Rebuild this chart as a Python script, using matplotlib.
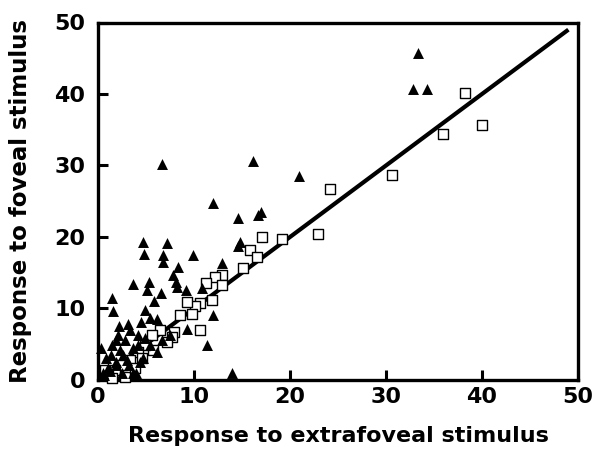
import matplotlib
matplotlib.use("Agg")
import matplotlib.pyplot as plt

plt.rcParams['font.family'] = ['DejaVu Sans']

# Filled triangles: response pairs (extrafoveal, foveal)
tri_x = [33.3, 32.8, 34.3, 20.9, 16.1, 6.7, 12.0, 14.6, 16.7, 17.0,
         4.7, 7.2, 4.8, 6.8, 6.8, 9.9, 14.8, 14.6, 12.9, 8.3,
         7.8, 8.1, 8.2, 3.6, 5.3, 5.1, 6.6, 9.2, 10.8, 1.5,
         1.6, 5.8, 4.9, 5.4, 6.1, 12.0, 3.1, 4.5, 9.3, 11.4,
         6.1, 0.3, 14.0, 3.6, 2.1, 2.8, 3.3, 1.3, 2.3, 4.2,
         1.0, 1.9, 4.9, 3.0, 0.6, 4.4, 1.5, 5.4, 6.7, 7.5,
         1.9, 0.8, 4.2, 3.2, 0.5, 4.0, 2.6, 1.9, 4.7, 2.5,
         1.2, 3.6, 2.2]
tri_y = [45.7, 40.7, 40.7, 28.5, 30.6, 30.2, 24.8, 22.7, 23.1, 23.5,
         19.3, 19.2, 17.6, 17.5, 16.5, 17.5, 19.3, 18.7, 16.4, 15.8,
         14.7, 13.7, 13.0, 13.4, 13.7, 12.6, 12.2, 12.6, 12.9, 11.5,
         9.7, 11.0, 9.8, 8.7, 8.5, 9.1, 7.8, 8.1, 7.1, 4.9,
         3.9, 4.5, 1.0, 1.0, 6.3, 5.6, 7.0, 3.5, 4.2, 4.9,
         1.7, 2.5, 5.9, 2.8, 0.7, 2.5, 4.9, 4.9, 5.6, 6.3,
         5.6, 3.1, 6.3, 2.1, 1.0, 1.0, 3.5, 2.1, 3.1, 1.0,
         1.2, 4.5, 7.5]

# Open squares
sq_x = [38.2, 40.0, 35.9, 30.6, 24.2, 22.9, 19.2, 17.1, 15.8, 16.6,
        15.1, 12.9, 12.2, 11.3, 12.9, 11.9, 10.6, 10.1, 9.3, 8.5,
        9.8, 10.6, 7.9, 7.7, 7.2, 5.7, 6.5, 5.6, 4.9, 4.2,
        3.3, 2.5, 1.8, 1.0, 1.5, 2.8, 3.9, 0.7, 4.6]
sq_y = [40.1, 35.7, 34.4, 28.7, 26.7, 20.4, 19.7, 20.0, 18.2, 17.2,
        15.7, 14.7, 14.4, 13.6, 13.3, 11.2, 10.8, 10.3, 10.9, 9.1,
        9.2, 7.0, 6.7, 6.0, 5.3, 4.2, 7.0, 6.3, 4.9, 3.9,
        2.8, 2.1, 1.4, 0.7, 0.3, 0.4, 1.7, 1.4, 3.1]

# Identity line
line_x = [0, 49]
line_y = [0, 49]

ticks = [0, 10, 20, 30, 40, 50]
xlabel = "Response to extrafoveal stimulus"
ylabel = "Response to foveal stimulus"

fig = plt.figure(figsize=(5.93, 4.5), dpi=100)
ax = fig.add_axes([0.1653, 0.1556, 0.8094, 0.7944])

ax.plot(line_x, line_y, color='black', lw=3.0, solid_capstyle='butt', zorder=2)
ax.scatter(sq_x, sq_y, marker='s', s=42, facecolors='white', edgecolors='black',
           linewidths=1.0, zorder=3, clip_on=False)
ax.scatter(tri_x, tri_y, marker='^', s=62, color='black', linewidths=0,
           zorder=4, clip_on=False)

ax.set_xlim(0, 50)
ax.set_ylim(0, 50)
ax.set_xticks(ticks)
ax.set_yticks(ticks)
ax.set_xticklabels([str(t) for t in ticks])
ax.set_yticklabels([str(t) for t in ticks])

for sp in ax.spines.values():
    sp.set_linewidth(2.4)

ax.tick_params(axis='both', direction='in', length=7, width=2.2,
               labelsize=16)
ax.tick_params(axis='x', pad=5)
ax.tick_params(axis='y', pad=9)
for lab in ax.get_xticklabels() + ax.get_yticklabels():
    lab.set_fontweight('bold')

ax.set_xlabel(xlabel, fontsize=16, fontweight='bold')
ax.set_ylabel(ylabel, fontsize=16.5, fontweight='bold')
ax.xaxis.set_label_coords(0.5, -0.13)
ax.yaxis.set_label_coords(-0.138, 0.5)

fig.savefig("out.png", dpi=100)
